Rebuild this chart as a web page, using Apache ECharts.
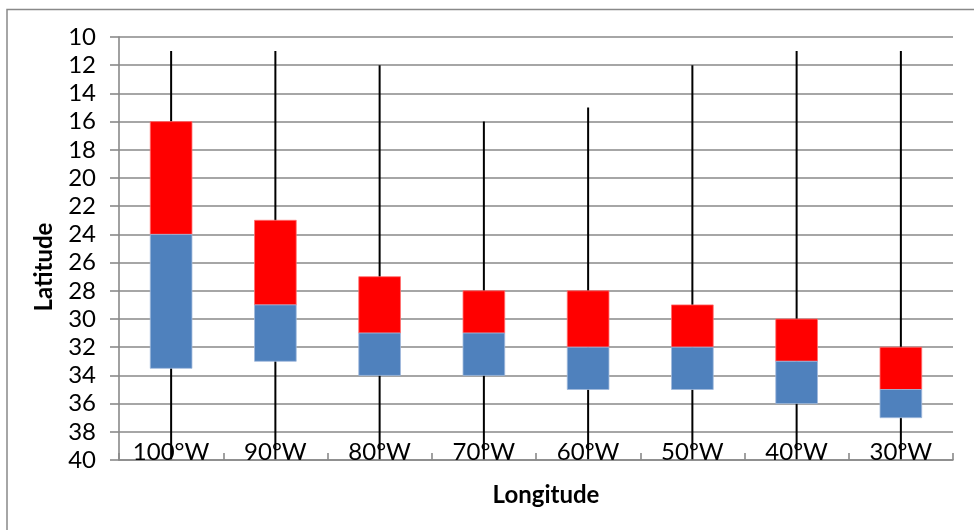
<!DOCTYPE html>
<html>
<head>
<meta charset="utf-8">
<script src="https://cdn.jsdelivr.net/npm/echarts@6/dist/echarts.min.js"></script>
<style>
html,body{margin:0;padding:0;background:#fff;}
#chart{width:974px;height:530px;}
</style>
</head>
<body>
<div id="chart"></div>
<script>
const categories = ['100°W','90°W','80°W','70°W','60°W','50°W','40°W','30°W'];
const whiskerTop    = [11, 11, 12, 16, 15, 12, 11, 11];
const redTop        = [16, 23, 27, 28, 28, 29, 30, 32];
const midValue      = [24, 29, 31, 31, 32, 32, 33, 35];
const blueBottom    = [33.5, 33, 34, 34, 35, 35, 36, 37];
const whiskerBottom = [40, 40, 40, 40, 40, 40, 40, 40];
const yTicks = {min: 10, max: 40, interval: 2};

const gridColor = '#898989';
const data = categories.map((c, i) => [i, whiskerTop[i], redTop[i], midValue[i], blueBottom[i], whiskerBottom[i]]);

const chart = echarts.init(document.getElementById('chart'));
chart.setOption({
  animation: false,
  backgroundColor: '#fff',
  grid: {left: 119, right: 21, top: 37, bottom: 70, containLabel: false},
  graphic: [
    {type: 'rect', shape: {x: 7, y: 9.5, width: 1000, height: 600}, style: {fill: 'none', stroke: gridColor, lineWidth: 1.5}, z: -1},
    {type: 'text', x: 44, y: 267, rotation: Math.PI / 2, style: {text: 'Latitude', font: 'bold 24px Lato', fill: '#000', align: 'center', verticalAlign: 'middle'}},
    {type: 'text', x: 546, y: 495, style: {text: 'Longitude', font: 'bold 24px Lato', fill: '#000', align: 'center', verticalAlign: 'middle'}}
  ],
  xAxis: {
    type: 'category',
    data: categories,
    boundaryGap: true,
    axisLine: {show: true, lineStyle: {color: gridColor, width: 1.6}},
    axisTick: {show: true, inside: true, length: 7, alignWithLabel: false, lineStyle: {color: gridColor, width: 1.6}},
    axisLabel: {inside: true, margin: -4, color: '#000', fontFamily: 'Lato', fontSize: 24},
    splitLine: {show: false},
    z: 10
  },
  yAxis: {
    type: 'value',
    inverse: true,
    min: yTicks.min, max: yTicks.max, interval: yTicks.interval,
    axisLine: {show: true, lineStyle: {color: gridColor, width: 1.6}},
    axisTick: {show: true, inside: false, length: 9, lineStyle: {color: gridColor, width: 1.6}},
    axisLabel: {margin: 23, color: '#000', fontFamily: 'Lato', fontSize: 24},
    splitLine: {show: true, lineStyle: {color: gridColor, width: 1.6}}
  },
  series: [{
    type: 'custom',
    data: data,
    encode: {x: 0, y: [1, 2, 3, 4, 5]},
    renderItem: function (params, api) {
      const i = api.value(0);
      const w = api.size([1, 0])[0] * 0.4;
      const pTop = api.coord([i, api.value(1)]);
      const pRed = api.coord([i, api.value(2)]);
      const pMid = api.coord([i, api.value(3)]);
      const pBlue = api.coord([i, api.value(4)]);
      const pBot = api.coord([i, api.value(5)]);
      return {
        type: 'group',
        children: [
          {type: 'line', shape: {x1: pTop[0], y1: pTop[1], x2: pBot[0], y2: pBot[1]}, style: {stroke: '#000', lineWidth: 2}},
          {type: 'rect', shape: {x: pRed[0] - w / 2, y: pRed[1], width: w, height: pMid[1] - pRed[1]}, style: {fill: '#FF0000', stroke: '#FF6E6E', lineWidth: 0.8}},
          {type: 'rect', shape: {x: pMid[0] - w / 2, y: pMid[1], width: w, height: pBlue[1] - pMid[1]}, style: {fill: '#4F81BD', stroke: '#9FB9DC', lineWidth: 0.8}}
        ]
      };
    },
    z: 5
  }]
});
</script>
</body>
</html>
